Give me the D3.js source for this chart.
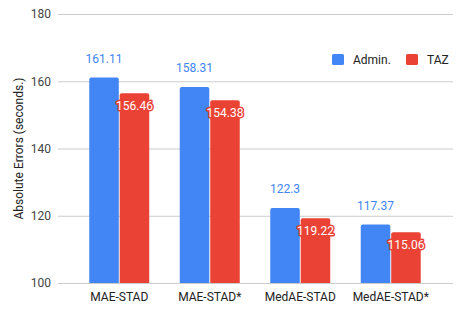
<!DOCTYPE html>
<html>
<head>
<meta charset="utf-8">
<script src="https://cdn.jsdelivr.net/npm/d3@7"></script>
<style>
  body { margin: 0; background: #fff; }
  text { font-family: Roboto, Arial, sans-serif; }
</style>
</head>
<body>
<div id="chart"></div>
<script>
const categories = ['MAE-STAD', 'MAE-STAD*', 'MedAE-STAD', 'MedAE-STAD*'];
const seriesNames = ['Admin.', 'TAZ'];
const adminValues = [161.11, 158.31, 122.3, 117.37];
const tazValues = [156.46, 154.38, 119.22, 115.06];
const yTicks = [100, 120, 140, 160, 180];
const colors = ['#4285F4', '#EA4335'];

const width = 468, height = 314;
const plotLeft = 58, plotRight = 453, plotTop = 14, plotBottom = 283;

const svg = d3.select('#chart')
  .append('svg')
  .attr('width', width)
  .attr('height', height);

const y = d3.scaleLinear()
  .domain([100, 180])
  .range([plotBottom, plotTop]);

const x = d3.scaleBand()
  .domain(categories)
  .range([74, 436]);

const xSeries = d3.scaleBand()
  .domain(seriesNames)
  .range([x.bandwidth() / 2 - 30, x.bandwidth() / 2 + 30])
  .paddingInner(0.03);

// gridlines + y tick labels
const yAxis = d3.axisLeft(y)
  .tickValues(yTicks)
  .tickSize(-(plotRight - plotLeft))
  .tickPadding(7);

const yg = svg.append('g')
  .attr('transform', `translate(${plotLeft},0)`)
  .call(yAxis);
yg.select('.domain').remove();
yg.selectAll('line').attr('stroke', '#cccccc');
yg.selectAll('text')
  .attr('fill', '#444')
  .style('font-size', '12px')
  .style('font-family', 'Roboto, Arial, sans-serif');

// x labels
const xAxis = d3.axisBottom(x).tickSize(0).tickPadding(9);
const xg = svg.append('g')
  .attr('transform', `translate(0,${plotBottom})`)
  .call(xAxis);
xg.select('.domain').remove();
xg.selectAll('text')
  .attr('fill', '#222')
  .style('font-size', '12px')
  .style('font-family', 'Roboto, Arial, sans-serif');

// bars
const data = categories.map((c, i) => ({
  cat: c,
  vals: [
    { name: seriesNames[0], v: adminValues[i], idx: 0 },
    { name: seriesNames[1], v: tazValues[i], idx: 1 }
  ]
}));

function barPath(x0, w, yTop, yBot, r) {
  return `M${x0},${yBot}V${yTop + r}Q${x0},${yTop} ${x0 + r},${yTop}H${x0 + w - r}Q${x0 + w},${yTop} ${x0 + w},${yTop + r}V${yBot}Z`;
}

const groups = svg.selectAll('.grp')
  .data(data)
  .enter()
  .append('g')
  .attr('class', 'grp')
  .attr('transform', d => `translate(${x(d.cat)},0)`);

groups.selectAll('path')
  .data(d => d.vals)
  .enter()
  .append('path')
  .attr('d', d => barPath(xSeries(d.name), xSeries.bandwidth(), y(d.v), y(100), 2))
  .attr('fill', d => colors[d.idx]);

// admin labels above bars
groups.append('text')
  .datum(d => d.vals[0])
  .attr('x', d => xSeries(d.name) + xSeries.bandwidth() / 2)
  .attr('y', d => y(d.v) - 15)
  .attr('text-anchor', 'middle')
  .attr('fill', colors[0])
  .style('font-size', '12px')
  .text(d => d.v);

// taz labels inside top of bars, white with red halo
groups.append('text')
  .datum(d => d.vals[1])
  .attr('x', d => xSeries(d.name) + xSeries.bandwidth() / 2)
  .attr('y', d => y(d.v) + 17)
  .attr('text-anchor', 'middle')
  .attr('fill', '#fff')
  .attr('stroke', colors[1])
  .attr('stroke-width', 3)
  .attr('paint-order', 'stroke')
  .attr('stroke-linejoin', 'round')
  .style('font-size', '12px')
  .text(d => d.v);

// legend
const legend = svg.append('g');
const legendX = [332, 406];
seriesNames.forEach((name, i) => {
  legend.append('rect')
    .attr('x', legendX[i])
    .attr('y', 54)
    .attr('width', 12)
    .attr('height', 11)
    .attr('rx', 1.5)
    .attr('fill', colors[i]);
  legend.append('text')
    .attr('x', legendX[i] + 21)
    .attr('y', 64)
    .attr('fill', '#222')
    .style('font-size', '12px')
    .text(name);
});

// y axis title
svg.append('text')
  .attr('transform', `translate(23,${(plotTop + plotBottom) / 2}) rotate(-90)`)
  .attr('text-anchor', 'middle')
  .attr('fill', '#222')
  .style('font-size', '12px')
  .text('Absolute Errors (seconds.)');
</script>
</body>
</html>
